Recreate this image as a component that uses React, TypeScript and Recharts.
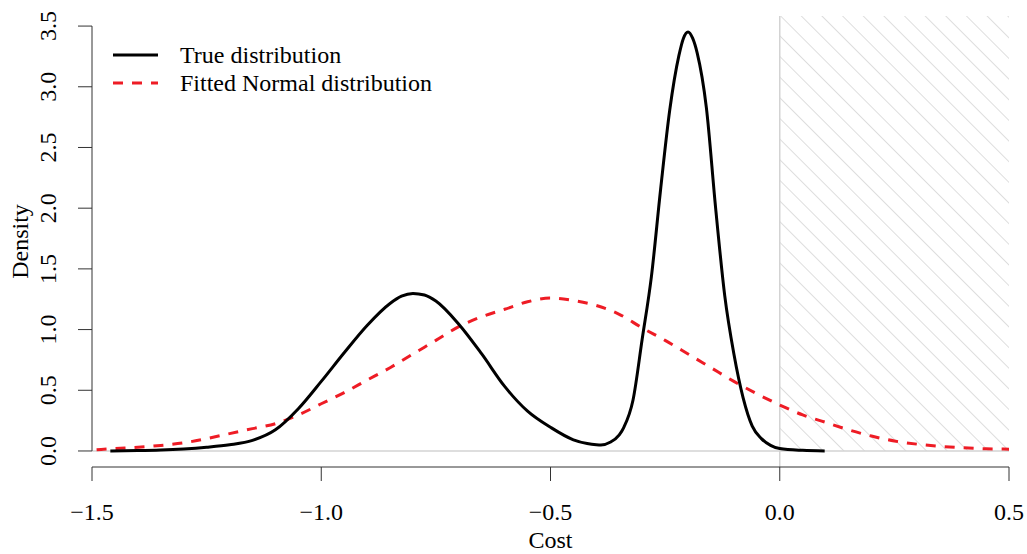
import { ComposedChart, Line, XAxis, YAxis, ReferenceArea, ReferenceLine, Legend } from "recharts"

const FONT = '"Liberation Serif", "Times New Roman", serif'

// True distribution (mixture density)
const trueX = [
  -1.46, -1.4, -1.35, -1.3, -1.25, -1.2, -1.15, -1.1, -1.05, -1.0, -0.95, -0.9, -0.85, -0.825, -0.8,
  -0.775, -0.75, -0.7, -0.65, -0.6, -0.55, -0.5, -0.45, -0.42, -0.4, -0.39, -0.37, -0.35, -0.34, -0.32,
  -0.3, -0.28, -0.26, -0.24, -0.22, -0.21, -0.2, -0.19, -0.18, -0.16, -0.14, -0.12, -0.1, -0.08, -0.06,
  -0.04, -0.02, 0, 0.05, 0.098,
]
const trueY = [
  0, 0.003, 0.008, 0.017, 0.031, 0.051, 0.087, 0.174, 0.348, 0.573, 0.809, 1.034, 1.215, 1.275, 1.298,
  1.285, 1.235, 1.044, 0.799, 0.532, 0.328, 0.195, 0.092, 0.061, 0.051, 0.049, 0.072, 0.133, 0.195, 0.42,
  0.922, 1.434, 2.15, 2.806, 3.256, 3.4, 3.451, 3.4, 3.277, 2.826, 2.007, 1.28, 0.799, 0.44, 0.205,
  0.102, 0.046, 0.02, 0.005, 0,
]

// Fitted normal distribution
const fitX = [
  -1.49, -1.45, -1.4, -1.35, -1.3, -1.25, -1.2, -1.15, -1.1, -1.05, -1.0, -0.95, -0.9, -0.85, -0.8,
  -0.75, -0.7, -0.65, -0.6, -0.55, -0.5, -0.45, -0.4, -0.35, -0.3, -0.25, -0.2, -0.15, -0.1, -0.05,
  0, 0.05, 0.1, 0.15, 0.2, 0.25, 0.3, 0.35, 0.4, 0.45, 0.5,
]
const fitY = [
  0.01, 0.02, 0.031, 0.046, 0.067, 0.102, 0.143, 0.184, 0.225, 0.297, 0.389, 0.481, 0.584, 0.686, 0.799,
  0.911, 1.024, 1.106, 1.167, 1.229, 1.26, 1.239, 1.198, 1.126, 1.014, 0.911, 0.799, 0.686, 0.573, 0.471,
  0.379, 0.297, 0.236, 0.174, 0.123, 0.082, 0.056, 0.038, 0.026, 0.018, 0.015,
]

const xTicks = [-1.5, -1.0, -0.5, 0.0, 0.5]
const yTicks = [0, 0.5, 1.0, 1.5, 2.0, 2.5, 3.0, 3.5]
const yMin = -0.132
const yMax = 3.583

const legendItems = [
  { label: "True distribution", color: "#000000", dash: "" },
  { label: "Fitted Normal distribution", color: "#ee1c25", dash: "10 9" },
]

const trueData = trueX.map((x, i) => ({ x, y: trueY[i] }))
const fitData = fitX.map((x, i) => ({ x, y: fitY[i] }))

const fmt = (v: number) => (v < 0 ? "\u2212" : "") + Math.abs(v).toFixed(1)

function XTick({ x, y, payload }: any) {
  return (
    <text x={x} y={y + 39} textAnchor="middle" fontFamily={FONT} fontSize={24} fill="#000">
      {fmt(payload.value)}
    </text>
  )
}

function YTick({ x, y, payload }: any) {
  return (
    <g transform={`translate(${x - 22},${y}) rotate(-90)`}>
      <text x={0} y={0} textAnchor="middle" fontFamily={FONT} fontSize={24} fill="#000">
        {fmt(payload.value)}
      </text>
    </g>
  )
}

function renderLegend() {
  return (
    <div style={{ fontFamily: FONT, fontSize: 24, color: "#000" }}>
      {legendItems.map((it) => (
        <div key={it.label} style={{ display: "flex", alignItems: "center", height: 28 }}>
          <svg width={45} height={28}>
            <line x1={0} y1={14} x2={45} y2={14} stroke={it.color} strokeWidth={3} strokeDasharray={it.dash} />
          </svg>
          <span style={{ marginLeft: 22, whiteSpace: "nowrap", lineHeight: "28px" }}>{it.label}</span>
        </div>
      ))}
    </div>
  )
}

export default function App() {
  return (
    <div style={{ position: "absolute", left: 0, top: 0, background: "#fff" }}>
      <ComposedChart width={1027} height={554} margin={{ top: 16, right: 18, left: 0, bottom: 0 }}>
        <defs>
          <pattern id="hatch" patternUnits="userSpaceOnUse" width={14.6} height={14.6} patternTransform="rotate(-45)">
            <line x1={0} y1={0} x2={0} y2={14.6} stroke="#c8c8c8" strokeWidth={1.2} />
          </pattern>
        </defs>
        <XAxis
          type="number"
          dataKey="x"
          domain={[-1.5, 0.5]}
          ticks={xTicks}
          allowDataOverflow
          height={87}
          stroke="#333"
          tickSize={14}
          tickMargin={0}
          tick={<XTick />}
          label={{
            content: ({ viewBox }: any) => (
              <text
                x={viewBox.x + viewBox.width / 2}
                y={548}
                textAnchor="middle"
                fontFamily={FONT}
                fontSize={24}
                fill="#000"
              >
                Cost
              </text>
            ),
          }}
        />
        <YAxis
          type="number"
          domain={[yMin, yMax]}
          ticks={yTicks}
          allowDataOverflow
          width={92}
          axisLine={false}
          tickLine={{ stroke: "#333" }}
          tickSize={14}
          tickMargin={0}
          tick={<YTick />}
          label={{
            content: ({ viewBox }: any) => (
              <g transform={`translate(28,${viewBox.y + viewBox.height / 2}) rotate(-90)`}>
                <text x={0} y={0} textAnchor="middle" fontFamily={FONT} fontSize={24} fill="#000">
                  Density
                </text>
              </g>
            ),
          }}
        />
        <ReferenceArea x1={0} x2={0.5} y1={0} y2={yMax} fill="url(#hatch)" stroke="none" fillOpacity={1} />
        <ReferenceLine x={0} stroke="#d3d3d3" strokeWidth={1.5} />
        <ReferenceLine y={0} stroke="#d3d3d3" strokeWidth={1.5} />
        <ReferenceLine
          segment={[
            { x: -1.5, y: 0 },
            { x: -1.5, y: 3.5 },
          ]}
          stroke="#333"
        />
        <Line
          data={fitData}
          dataKey="y"
          type="monotone"
          stroke="#ee1c25"
          strokeWidth={3}
          strokeDasharray="10 9"
          dot={false}
          isAnimationActive={false}
        />
        <Line
          data={trueData}
          dataKey="y"
          type="monotone"
          stroke="#000"
          strokeWidth={3}
          dot={false}
          isAnimationActive={false}
        />
        <Legend
          content={renderLegend}
          layout="vertical"
          align="center"
          verticalAlign="middle"
          wrapperStyle={{ left: 113, top: 41, width: "auto" }}
        />
      </ComposedChart>
    </div>
  )
}
